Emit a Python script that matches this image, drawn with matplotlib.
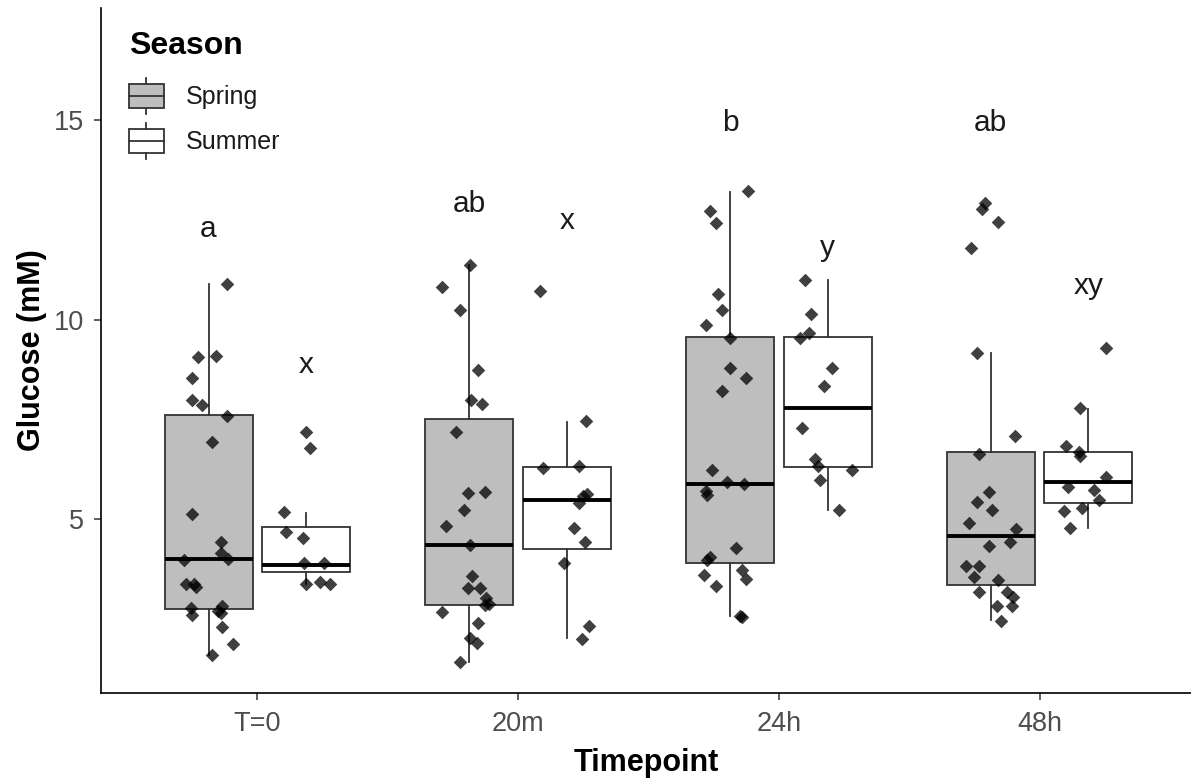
import numpy as np
import matplotlib.pyplot as plt
from matplotlib.patches import Rectangle
from matplotlib.lines import Line2D
from matplotlib.legend_handler import HandlerBase

plt.rcParams['font.family'] = ['Liberation Sans', 'DejaVu Sans']

timepoints = ['T=0', '20m', '24h', '48h']
seasons = ['Spring', 'Summer']

# glucose values, one list per timepoint and season
spring_vals = [
    [10.90, 9.05, 9.08, 8.53, 7.99, 7.85, 7.59, 6.93, 5.13, 4.43, 4.16, 4.01,
     3.97, 3.38, 3.37, 3.30, 2.77, 2.60, 2.81, 2.65, 2.70, 2.29, 1.86, 1.58],
    [11.36, 10.81, 10.25, 8.74, 7.99, 7.89, 7.19, 5.65, 5.69, 5.23, 4.82, 4.36,
     3.57, 3.27, 3.27, 3.01, 2.88, 2.84, 2.66, 2.40, 2.02, 1.90, 1.41],
    [13.22, 12.72, 12.43, 10.65, 10.25, 9.86, 9.54, 8.79, 8.53, 8.20, 6.23, 5.92,
     5.88, 5.71, 5.60, 4.28, 4.04, 3.97, 3.61, 3.72, 3.51, 3.32, 2.56, 2.55],
    [12.93, 12.76, 12.45, 11.80, 9.15, 7.09, 6.63, 5.67, 5.42, 5.23, 4.89, 4.74,
     4.43, 4.32, 3.82, 3.82, 3.55, 3.47, 3.16, 3.16, 3.05, 2.81, 2.81, 2.44],
]
spring_jit = [
    [0.069, -0.040, 0.030, -0.063, -0.063, -0.025, 0.069, 0.014, -0.063, 0.046, 0.046, 0.075,
     -0.095, -0.086, -0.054, -0.050, -0.069, -0.063, 0.052, 0.046, 0.038, 0.052, 0.093, 0.014],
    [0.002, -0.104, -0.036, 0.034, 0.008, 0.049, -0.049, -0.004, 0.059, -0.021, -0.089, 0.002,
     0.011, -0.004, 0.043, 0.066, 0.075, 0.062, -0.104, 0.034, 0.002, 0.030, -0.034],
    [0.070, -0.075, -0.052, -0.045, -0.030, -0.090, -0.001, -0.001, 0.063, -0.030, -0.068, -0.013,
     0.053, -0.091, -0.087, 0.025, -0.075, -0.087, -0.100, 0.047, 0.063, -0.052, 0.040, 0.047],
    [-0.023, -0.033, 0.029, -0.077, -0.054, 0.092, -0.046, -0.007, -0.054, 0.006, -0.084, 0.099,
     0.076, -0.007, -0.094, -0.046, -0.065, 0.029, -0.046, 0.063, 0.086, 0.025, 0.082, 0.038],
]
summer_vals = [
    [7.18, 6.78, 5.18, 4.67, 4.53, 3.89, 3.90, 3.37, 3.43, 3.37],
    [10.71, 7.45, 6.27, 6.33, 5.63, 5.58, 5.41, 4.77, 4.43, 3.89, 2.32, 2.00],
    [11.00, 10.15, 9.67, 9.54, 8.79, 8.34, 7.28, 6.50, 6.33, 6.23, 5.98, 5.23],
    [9.30, 7.78, 6.84, 6.69, 6.57, 6.05, 5.81, 5.73, 5.48, 5.21, 5.27, 4.77],
]
summer_jit = [
    [-0.001, 0.016, -0.084, -0.077, -0.014, -0.007, 0.067, -0.001, 0.054, 0.092],
    [-0.102, 0.074, -0.093, 0.045, 0.077, 0.063, 0.045, 0.026, 0.068, -0.013, 0.083, 0.058],
    [-0.089, -0.066, -0.073, -0.105, 0.017, -0.015, -0.098, -0.047, -0.038, 0.094, -0.028, 0.042],
    [0.069, -0.031, -0.086, -0.037, -0.031, 0.069, -0.079, 0.020, 0.040, -0.095, -0.024, -0.069],
]

# box statistics as drawn (outliers hidden)
spring_q1 = [2.74, 2.84, 3.89, 3.34]
spring_med = [4.01, 4.36, 5.88, 4.57]
spring_q3 = [7.61, 7.51, 9.56, 6.69]
spring_lo = [1.58, 1.41, 2.56, 2.46]
spring_hi = [10.90, 11.36, 13.20, 9.15]
summer_q1 = [3.68, 4.24, 6.30, 5.39]
summer_med = [3.86, 5.48, 7.78, 5.92]
summer_q3 = [4.80, 6.31, 9.56, 6.69]
summer_lo = [3.37, 2.02, 5.23, 4.77]
summer_hi = [5.16, 7.43, 10.98, 7.76]

# significance letters
spring_letters = ['a', 'ab', 'b', 'ab']
spring_letter_y = [12.28, 12.89, 14.92, 14.92]
summer_letters = ['x', 'x', 'y', 'xy']
summer_letter_y = [8.87, 12.47, 11.80, 10.84]

fills = {'Spring': '#BEBEBE', 'Summer': 'white'}
dodge = 0.1875
bw = 0.3375
line_c = '#333333'

fig = plt.figure(figsize=(11.91, 7.84), dpi=100)
ax = fig.add_axes([101 / 1191, 91 / 784, 1090 / 1191, 685 / 784])

pos = np.arange(1, len(timepoints) + 1)

groups = [
    ('Spring', -dodge, spring_q1, spring_med, spring_q3, spring_lo, spring_hi, spring_vals, spring_jit,
     spring_letters, spring_letter_y),
    ('Summer', dodge, summer_q1, summer_med, summer_q3, summer_lo, summer_hi, summer_vals, summer_jit,
     summer_letters, summer_letter_y),
]

for name, off, q1, med, q3, lo, hi, vals, jit, letters, ly in groups:
    stats = []
    for i in range(len(timepoints)):
        stats.append({'q1': q1[i], 'med': med[i], 'q3': q3[i],
                      'whislo': lo[i], 'whishi': hi[i], 'fliers': []})
    ax.bxp(stats, positions=pos + off, widths=bw, patch_artist=True,
           showcaps=False, showfliers=False,
           boxprops=dict(facecolor=fills[name], edgecolor=line_c, linewidth=1.3),
           medianprops=dict(color='black', linewidth=2.8, solid_capstyle='butt'),
           whiskerprops=dict(color=line_c, linewidth=1.3),
           zorder=2)
    for i in range(len(timepoints)):
        xs = pos[i] + off + np.array(jit[i])
        ax.scatter(xs, vals[i], marker='D', s=48, color='black', alpha=0.75,
                   linewidths=0, zorder=3)
        ax.text(pos[i] + off, ly[i], letters[i], ha='center', va='center',
                fontsize=21.5, color='#1a1a1a')

ax.set_xlim(0.4, 4.581)
ax.set_ylim(0.64, 17.81)
ax.set_xticks(pos)
ax.set_xticklabels(timepoints)
ax.set_yticks([5, 10, 15])
ax.tick_params(axis='both', length=5, width=1.1, color=line_c,
               labelsize=19.5, labelcolor='#4D4D4D')
ax.tick_params(axis='x', pad=8)
ax.tick_params(axis='y', pad=7)
for s in ['top', 'right']:
    ax.spines[s].set_visible(False)
for s in ['left', 'bottom']:
    ax.spines[s].set_color('black')
    ax.spines[s].set_linewidth(1.2)

ax.set_xlabel('Timepoint', fontsize=22, fontweight='bold', labelpad=8)
ax.set_ylabel('Glucose (mM)', fontsize=22, fontweight='bold', labelpad=5)


class BoxKey(HandlerBase):
    def create_artists(self, legend, orig, xd, yd, w, h, fs, trans):
        x0, y0 = -xd, -yd
        cx = x0 + w / 2
        rect = Rectangle((x0, y0 + 0.16 * h), w, 0.68 * h, facecolor=orig.get_facecolor(),
                         edgecolor=line_c, lw=1.3, transform=trans)
        med = Line2D([x0, x0 + w], [y0 + h / 2] * 2, color=line_c, lw=1.3, transform=trans)
        wt = Line2D([cx, cx], [y0 + 0.84 * h, y0 + h], color=line_c, lw=1.3, transform=trans)
        wb = Line2D([cx, cx], [y0, y0 + 0.16 * h], color=line_c, lw=1.3, transform=trans)
        return [rect, med, wt, wb]


handles = [Rectangle((0, 0), 1, 1, facecolor=fills[s]) for s in seasons]
leg = ax.legend(handles, seasons, title='Season', loc='upper left',
                bbox_to_anchor=(0.005, 1.0), frameon=False, fontsize=18,
                title_fontproperties={'weight': 'bold', 'size': 23},
                handler_map={Rectangle: BoxKey()}, handlelength=1.4,
                handleheight=1.8, handletextpad=0.88, labelspacing=0.38,
                borderpad=0.4, alignment='left')
# a bit more room between the legend title and the keys
leg._legend_box.sep = 0.38 * 18 + 6
for t in leg.get_texts():
    t.set_color('#1a1a1a')

fig.savefig('out.png', dpi=100)
